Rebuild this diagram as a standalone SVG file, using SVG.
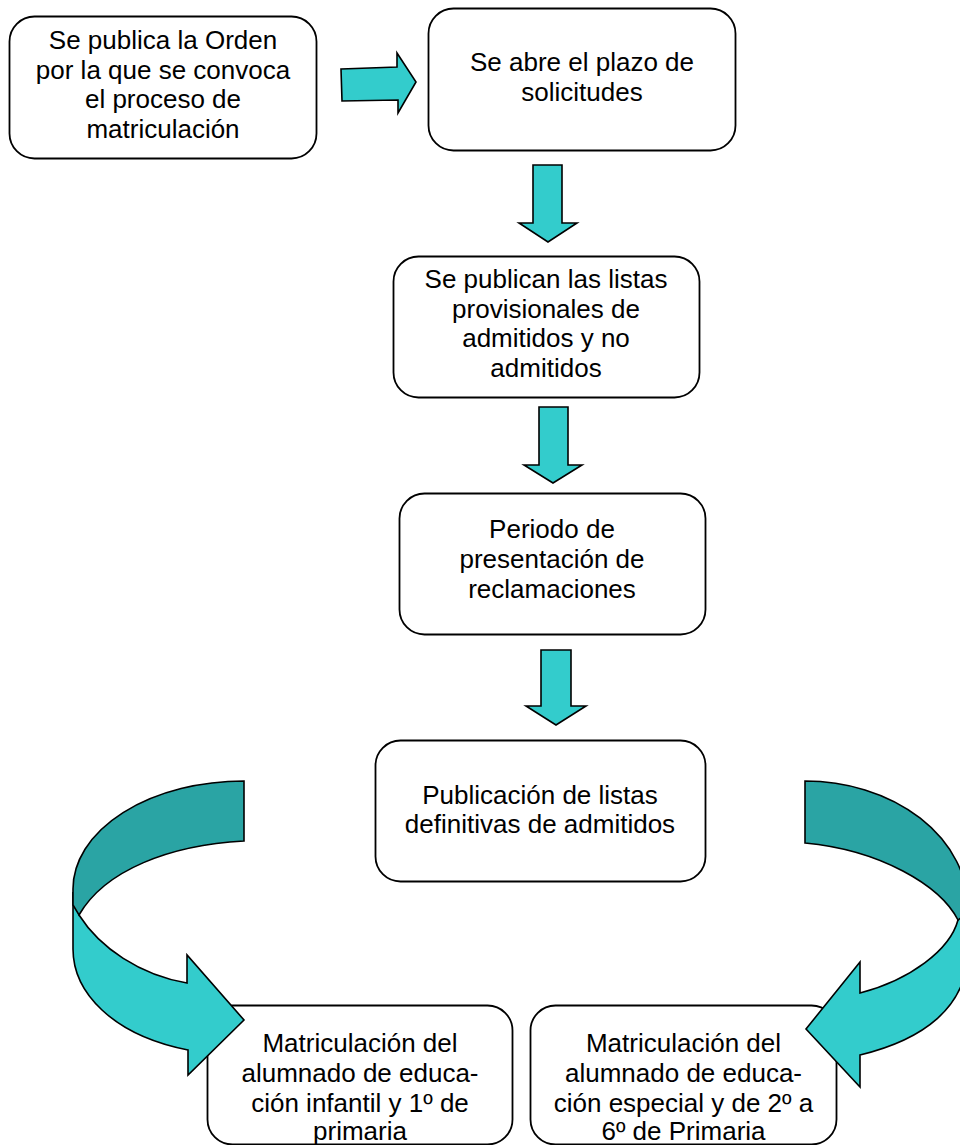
<svg xmlns="http://www.w3.org/2000/svg" width="960" height="1145" viewBox="0 0 960 1145">
<style>
.box{fill:#ffffff;stroke:#000000;stroke-width:1.8}
.t{font-family:"Liberation Sans",Arial,sans-serif;font-size:26px;fill:#000000;text-anchor:middle}
.arr{fill:#33CCCC;stroke:#000000;stroke-width:1.6;stroke-linejoin:miter}
.arrd{fill:#2AA4A4;stroke:#000000;stroke-width:1.6;stroke-linejoin:miter}
</style>
<rect width="960" height="1145" fill="#ffffff"/>
<g id="nodes">
<g id="n1">
<rect class="box" x="9.5" y="16.5" width="307" height="142" rx="25"/>
<text class="t" x="163" y="49">Se publica la Orden</text>
<text class="t" x="163" y="79">por la que se convoca</text>
<text class="t" x="163" y="108">el proceso de</text>
<text class="t" x="163" y="138">matriculación</text>
</g>
<g id="n2">
<rect class="box" x="428.5" y="8.5" width="307" height="142" rx="25"/>
<text class="t" x="582" y="71">Se abre el plazo de</text>
<text class="t" x="582" y="101">solicitudes</text>
</g>
<g id="n3">
<rect class="box" x="393.5" y="256.5" width="306" height="141" rx="25"/>
<text class="t" x="546" y="288">Se publican las listas</text>
<text class="t" x="546" y="318">provisionales de</text>
<text class="t" x="546" y="347">admitidos y no</text>
<text class="t" x="546" y="377">admitidos</text>
</g>
<g id="n4">
<rect class="box" x="399.5" y="493.5" width="306" height="141" rx="25"/>
<text class="t" x="552" y="538">Periodo de</text>
<text class="t" x="552" y="568">presentación de</text>
<text class="t" x="552" y="598">reclamaciones</text>
</g>
<g id="n5">
<rect class="box" x="375.5" y="740.5" width="330" height="141" rx="25"/>
<text class="t" x="540" y="804">Publicación de listas</text>
<text class="t" x="540" y="833">definitivas de admitidos</text>
</g>
<g id="n6">
<rect class="box" x="207.5" y="1005.5" width="305" height="139" rx="25"/>
<text class="t" x="360" y="1052">Matriculación del</text>
<text class="t" x="360" y="1082">alumnado de educa-</text>
<text class="t" x="360" y="1112">ción infantil y 1º de</text>
<text class="t" x="360" y="1140">primaria</text>
</g>
<g id="n7">
<rect class="box" x="530.5" y="1005.5" width="306" height="139" rx="25"/>
<text class="t" x="683.5" y="1052">Matriculación del</text>
<text class="t" x="683.5" y="1082">alumnado de educa-</text>
<text class="t" x="683.5" y="1112">ción especial y de 2º a</text>
<text class="t" x="683.5" y="1140">6º de Primaria</text>
</g>
</g>
<g id="connectors">
<path id="a1" class="arr" d="M341,69 L397,67 L397,53 L416,82 L398,113 L398,100 L342,101 Z"/>
<path id="a2" class="arr" d="M533,165 L562,165 L562,223 L577,223 L548,242 L519,223 L533,223 Z"/>
<path id="a3" class="arr" d="M539,407 L568,407 L568,465 L582,465 L553,483 L524,465 L539,465 Z"/>
<path id="a4" class="arr" d="M541,650 L571,650 L571,706 L586,706 L556,725 L526,706 L541,706 Z"/>
<g id="a5">
<path class="arr" d="M73,892 L73,949 C73,992 112,1035 188,1050 L188,1075 L244,1020 L187,955 L187,983 C140,975 100,948 79,915 Z"/>
<path class="arrd" d="M244,781 A171,108 0 0 0 73,889 L73,905 L79,915 C105,870 170,845 244,841 Z"/>
</g>
<g id="a6">
<path class="arr" d="M968,906 L968,950 C968,1008 922,1040 860,1055 L860,1087 L806,1029 L860,962 L860,993 C910,980 950,950 958,920 Z"/>
<path class="arrd" d="M805,781 A163,127 0 0 1 968,908 L968,912 L958,920 C940,885 880,850 805,843 Z"/>
</g>
</g>
</svg>
